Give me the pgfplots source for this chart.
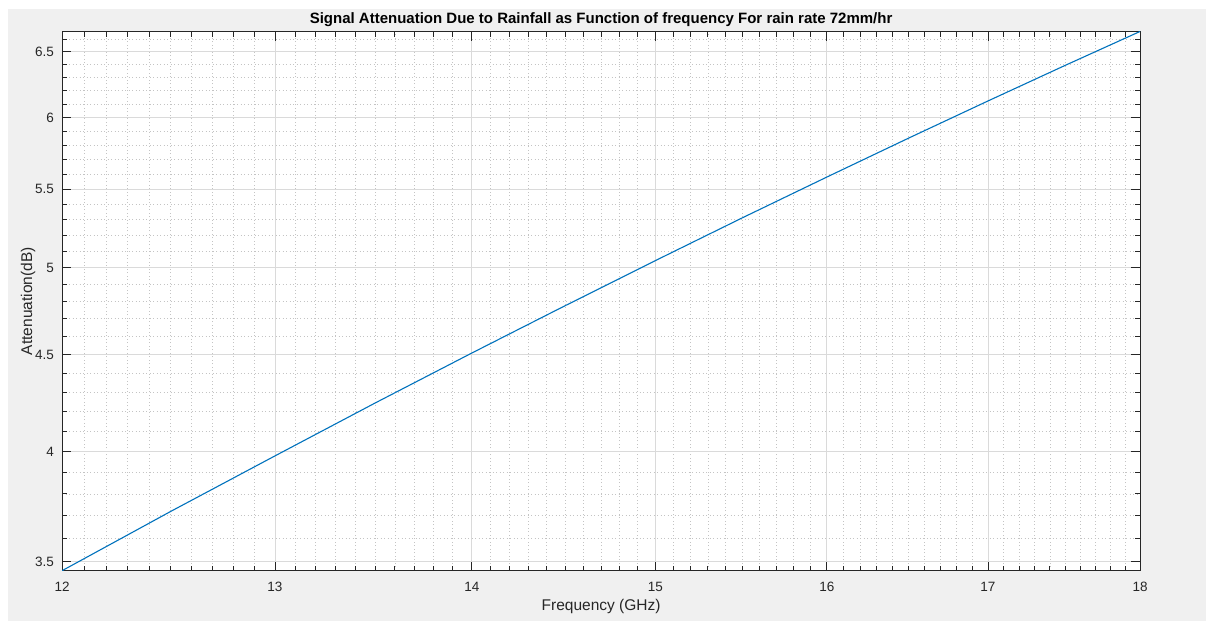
\documentclass[border=0pt]{standalone}
\usepackage{pgfplots}
\pgfplotsset{compat=1.18}
\usepackage{fontspec}
\setmainfont{Liberation Sans}
\definecolor{bggray}{HTML}{F0F0F0}
\definecolor{axgray}{HTML}{262626}
\definecolor{majgrid}{HTML}{DADADA}
\definecolor{mingrid}{HTML}{C4C4C4}
\definecolor{mblue}{HTML}{0072BD}
\begin{document}
\begin{tikzpicture}[x=1pt,y=1pt]
\fill[white] (0,0) rectangle (1206,621);
\fill[bggray] (8,0) rectangle (1206,612);
\begin{loglogaxis}[
  scale only axis,
  width=1078pt, height=539pt,
  at={(62pt,50.3pt)}, anchor=south west,
  xmin=12, xmax=18, ymin=3.462, ymax=6.66,
  axis background/.style={fill=white},
  axis line style={axgray, line width=0.9pt},
  xtick={12,13,14,15,16,17,18},
  xticklabels={12,13,14,15,16,17,18},
  ytick={3.5,4,4.5,5,5.5,6,6.5},
  yticklabels={3.5,4,4.5,5,5.5,6,6.5},
  minor xtick={12.1,12.2,12.3,12.4,12.5,12.6,12.7,12.8,12.9,13.1,13.2,13.3,13.4,13.5,13.6,13.7,13.8,13.9,14.1,14.2,14.3,14.4,14.5,14.6,14.7,14.8,14.9,15.1,15.2,15.3,15.4,15.5,15.6,15.7,15.8,15.9,16.1,16.2,16.3,16.4,16.5,16.6,16.7,16.8,16.9,17.1,17.2,17.3,17.4,17.5,17.6,17.7,17.8,17.9},
  minor ytick={3.6,3.7,3.8,3.9,4.1,4.2,4.3,4.4,4.6,4.7,4.8,4.9,5.1,5.2,5.3,5.4,5.6,5.7,5.8,5.9,6.1,6.2,6.3,6.4,6.6},
  grid=both,
  major grid style={majgrid, line width=0.9pt},
  minor grid style={mingrid, line width=0.8pt, dash pattern=on 1pt off 2.5pt},
  tick align=inside,
  major tick length=9pt, minor tick length=5pt,
  every tick/.style={axgray, line width=0.9pt},
  xticklabel style={font=\fontsize{13.5}{14}\selectfont, text=axgray, inner sep=0pt, yshift=-11.5pt},
  yticklabel style={font=\fontsize{13.5}{14}\selectfont, text=axgray, inner sep=0pt, xshift=-8pt},
  xlabel={Frequency (GHz)},
  ylabel={Attenuation(dB)},
  xlabel style={font=\fontsize{15.5}{16}\selectfont, text=axgray, at={(axis description cs:0.5,-0.0655)}, anchor=center},
  ylabel style={font=\fontsize{15.5}{16}\selectfont, text=axgray, at={(axis description cs:-0.0315,0.5)}, anchor=center},
  title={Signal Attenuation Due to Rainfall as Function of frequency For rain rate 72mm/hr},
  title style={font=\fontsize{15}{16}\selectfont\bfseries, text=black, at={(axis description cs:0.5,1.0106)}, anchor=center},
]
\addplot[mblue, line width=1.1pt] coordinates {
(12,3.462) (12.5,3.720) (13,3.980) (13.5,4.2435) (14,4.5087) (14.5,4.7756)
(15,5.0438) (15.5,5.3128) (16,5.5825) (16.5,5.8525) (17,6.1225) (17.5,6.3923) (18,6.6616)
};
\end{loglogaxis}
\pgfresetboundingbox
\useasboundingbox (0,0) rectangle (1206,621);
\end{tikzpicture}
\end{document}
